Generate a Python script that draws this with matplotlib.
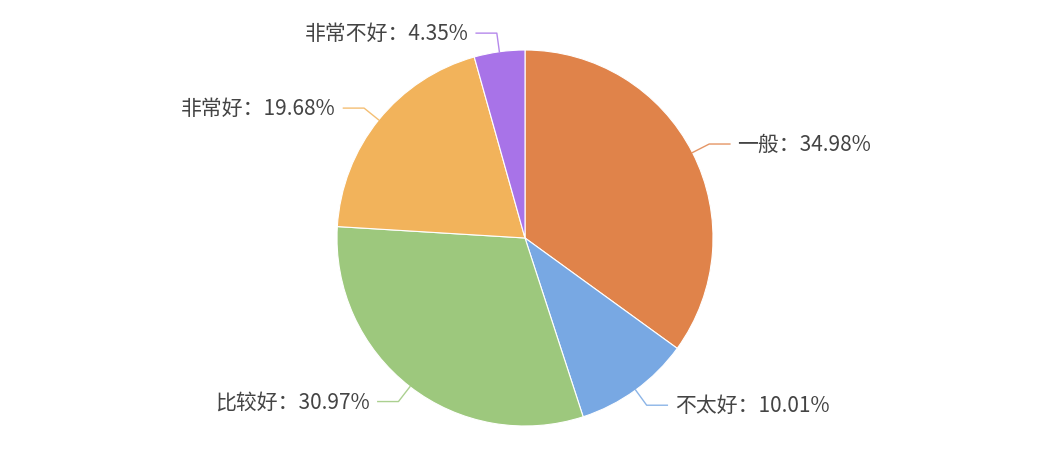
import numpy as np
import matplotlib
matplotlib.use("Agg")
import matplotlib.pyplot as plt

plt.rcParams['font.family'] = ['Noto Sans CJK SC', 'DejaVu Sans']

# data
labels = ["一般", "不太好", "比较好", "非常好", "非常不好"]
values = [34.98, 10.01, 30.97, 19.68, 4.35]
colors = ["#E0834A", "#78A8E3", "#9DC87D", "#F2B35B", "#A873E8"]

fig = plt.figure(figsize=(10.43, 4.52), dpi=100)
ax = fig.add_axes([0, 0, 1, 1])

wedges, _ = ax.pie(values, colors=colors, startangle=90, counterclock=False,
                   radius=1.0, wedgeprops=dict(edgecolor="white", linewidth=0.8))

# center at (525, 239) px, radius 188 px  (set after pie, pie resets limits)
R = 188.0
cx, cy = 525.0, 239.0
ax.set_xlim(-cx / R, (1043 - cx) / R)
ax.set_ylim(-(452 - cy) / R, cy / R)
ax.set_aspect("equal")
ax.axis("off")

total = sum(values)
for w, lab, val, col in zip(wedges, labels, values, colors):
    ang = np.deg2rad((w.theta1 + w.theta2) / 2.0)
    x0, y0 = np.cos(ang), np.sin(ang)
    x1, y1 = 1.1 * x0, 1.1 * y0
    side = 1 if x0 >= 0 else -1
    x2 = x1 + side * 0.11
    ax.plot([x0, x1, x2], [y0, y1, y1], color=col, linewidth=1.0, alpha=0.85)
    ax.text(x2 + side * 0.04, y1, "%s：%.2f%%" % (lab, val / total * 100),
            ha="left" if side > 0 else "right", va="center",
            fontsize=15, color="#444444")

fig.savefig("out.png", dpi=100)
